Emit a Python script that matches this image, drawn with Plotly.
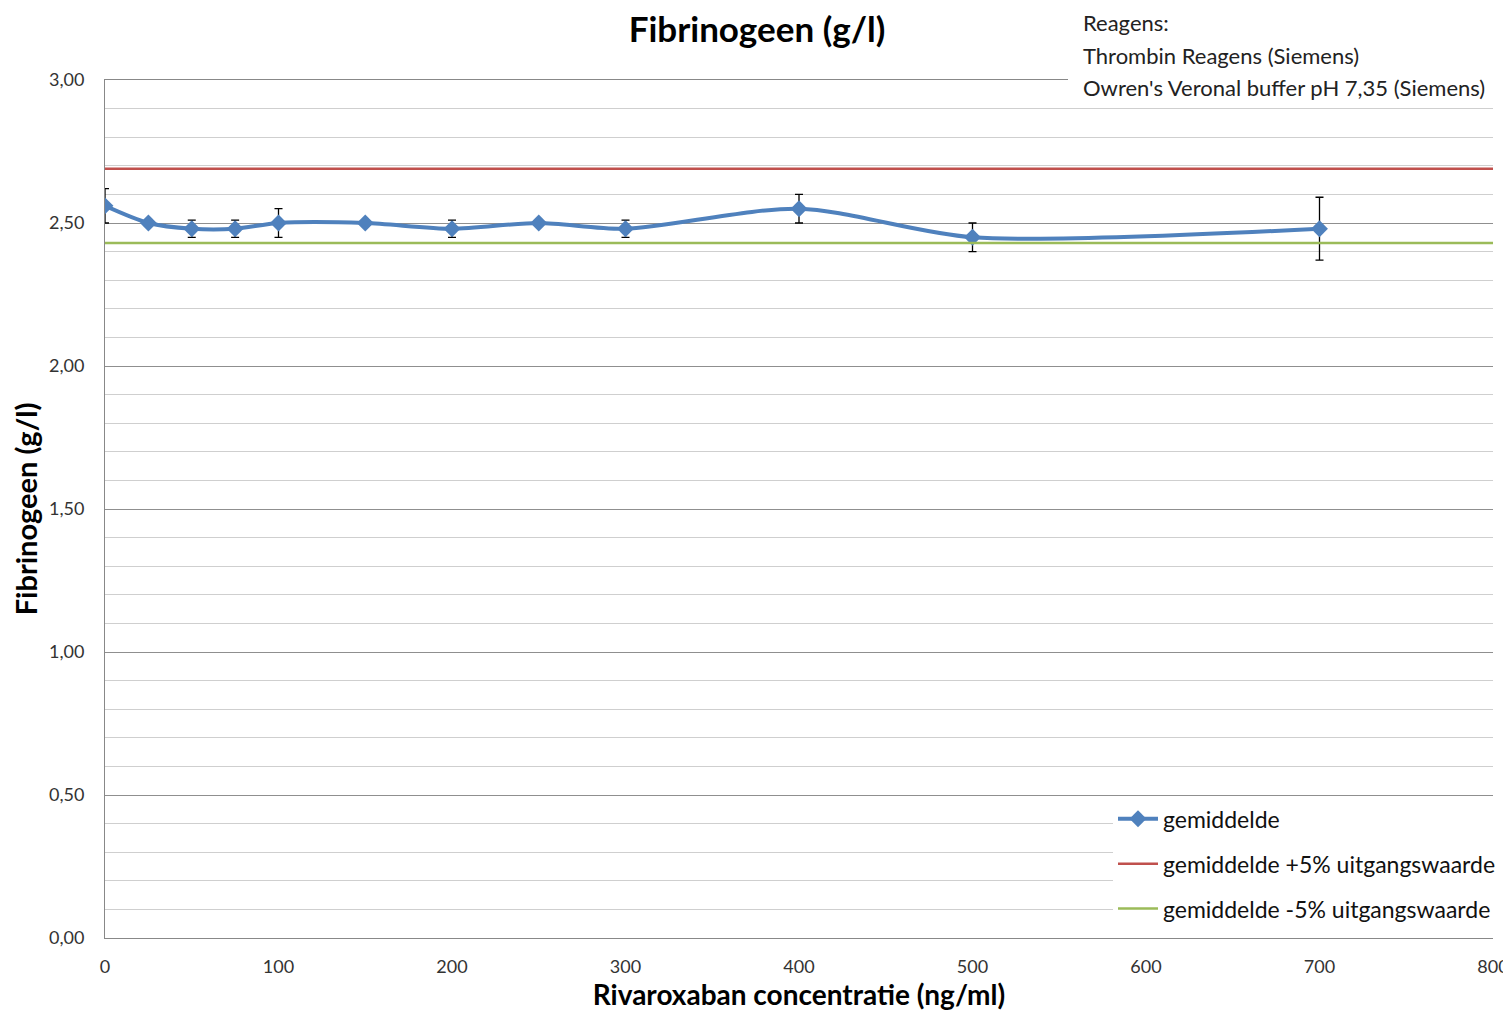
import plotly.graph_objects as go

# Data
concentratie = [0, 25, 50, 75, 100, 150, 200, 250, 300, 400, 500, 700]
gemiddelde = [2.56, 2.50, 2.48, 2.48, 2.50, 2.50, 2.48, 2.50, 2.48, 2.55, 2.45, 2.48]
fout = [0.06, 0.0, 0.03, 0.03, 0.05, 0.0, 0.03, 0.0, 0.03, 0.05, 0.05, 0.11]
x_range = [0, 800]
boven = [2.69, 2.69]
onder = [2.43, 2.43]
reagens_regels = ["Reagens:", "Thrombin Reagens (Siemens)", "Owren's Veronal buffer pH 7,35 (Siemens)"]

FONT = "Lato, 'Open Sans', sans-serif"

# layout geometry (figure coords; page body adds 8px offset)
L, T, PW, PH = 97, 72, 1388, 858
W, H = 1503, 1003
regel_y = [15, 47, 79]

fig = go.Figure()
fig.add_trace(go.Scatter(
    x=concentratie, y=gemiddelde, name="gemiddelde", mode="lines+markers",
    line=dict(color="#4F81BD", width=4, shape="spline", smoothing=0.8),
    marker=dict(symbol="diamond", size=13, color="#4F81BD"),
    error_y=dict(type="data", array=fout, visible=True, color="black", thickness=1.3, width=4),
    legendgroup="a",
))
fig.add_trace(go.Scatter(
    x=x_range, y=boven, name="gemiddelde +5% uitgangswaarde", mode="lines",
    line=dict(color="#C0504D", width=2.5), legendgroup="b",
))
fig.add_trace(go.Scatter(
    x=x_range, y=onder, name="gemiddelde -5% uitgangswaarde", mode="lines",
    line=dict(color="#9BBB59", width=2.5), legendgroup="c",
))

# white text-box background covering the top border behind the reagent note
fig.add_shape(type="rect", xref="paper", yref="paper",
              x0=(1060 - L) / PW, x1=(W - L) / PW,
              y0=1 - 12 / PH, y1=1 + 12 / PH,
              fillcolor="white", line=dict(width=0), layer="above")

for t, yc in zip(reagens_regels, regel_y):
    fig.add_annotation(
        text=t, xref="paper", yref="paper", x=(1074 - L) / PW,
        y=1 + (T - yc) / PH,
        xanchor="left", yanchor="middle", showarrow=False, align="left",
        font=dict(family=FONT, size=22, color="#222"),
        bgcolor="white", borderpad=0,
    )

fig.update_layout(
    width=W, height=H,
    margin=dict(l=L, r=W - L - PW, t=T, b=H - T - PH, autoexpand=False),
    paper_bgcolor="white", plot_bgcolor="white",
    font=dict(family=FONT, color="#333"),
    separators=",.",
    title=dict(text="<b>Fibrinogeen (g/l)</b>", x=(749 - L) / PW, xref="paper", xanchor="center",
               y=1 - 22 / H, yanchor="middle",
               font=dict(family=FONT, size=35, color="black")),
    showlegend=True,
    legend=dict(x=(1105 - L) / PW, xanchor="left", y=0.009, yanchor="bottom",
                bgcolor="white", font=dict(family=FONT, size=23, color="#111"),
                traceorder="grouped", tracegroupgap=12, itemwidth=40),
    xaxis=dict(range=x_range, dtick=100, showgrid=False, zeroline=False,
               showline=True, linecolor="#888", linewidth=1, mirror=True,
               ticks="", ticklabelstandoff=12, tickfont=dict(size=18, color="#333"),
               ticklabeloverflow="allow",
               automargin=False,
               title=dict(text="<b>Rivaroxaban concentratie (ng/ml)</b>",
                          font=dict(family=FONT, size=28, color="black"), standoff=10)),
    yaxis=dict(range=[0, 3.0], dtick=0.5, tickformat=".2f", showgrid=True,
               gridcolor="#8f8f8f", gridwidth=1, zeroline=False,
               showline=True, linecolor="#888", linewidth=1,
               ticks="", ticklabelstandoff=16, tickfont=dict(size=18, color="#333"),
               automargin=False,
               minor=dict(dtick=0.1, showgrid=True, gridcolor="#cfcfcf", gridwidth=1),
               title=dict(text="<b>Fibrinogeen (g/l)</b>",
                          font=dict(family=FONT, size=29, color="black"), standoff=10)),
)

fig.write_html("out.html")
